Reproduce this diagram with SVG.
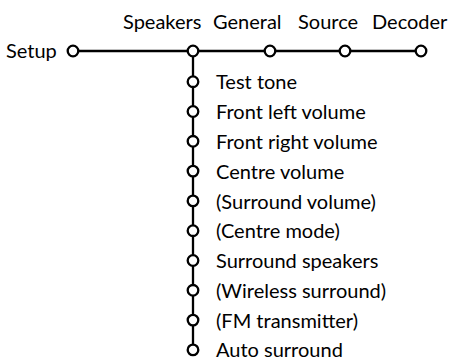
<svg xmlns="http://www.w3.org/2000/svg" width="450" height="361" viewBox="0 0 450 361">
<style>
.c{fill:#fff;stroke:#000;stroke-width:2.3}
.l{stroke:#000;stroke-width:2.3;fill:none}
text{font-family:Lato,"Open Sans","Liberation Sans",sans-serif;font-size:20px;fill:#000}
</style>
<rect width="450" height="361" fill="#fff"/>
<g id="connectors">
<line class="l" x1="73" y1="51" x2="421" y2="51"/>
<line class="l" x1="193" y1="51" x2="193" y2="350"/>
</g>
<g id="setup"><circle class="c" cx="73" cy="51" r="5.3"/><text x="6" y="57.5">Setup</text></g>
<g id="speakers"><circle class="c" cx="193" cy="51" r="5.3"/><text x="123" y="29">Speakers</text></g>
<g id="general"><circle class="c" cx="270" cy="51" r="5.3"/><text x="213" y="29">General</text></g>
<g id="source"><circle class="c" cx="345" cy="51" r="5.3"/><text x="298" y="29">Source</text></g>
<g id="decoder"><circle class="c" cx="421" cy="51" r="5.3"/><text x="372" y="29">Decoder</text></g>
<g id="test-tone"><circle class="c" cx="193" cy="81.7" r="5.3"/><text x="216" y="89.3">Test tone</text></g>
<g id="front-left"><circle class="c" cx="193" cy="111.5" r="5.3"/><text x="216" y="119.1">Front left volume</text></g>
<g id="front-right"><circle class="c" cx="193" cy="141.3" r="5.3"/><text x="216" y="148.9">Front right volume</text></g>
<g id="centre-volume"><circle class="c" cx="193" cy="171.1" r="5.3"/><text x="216" y="178.7">Centre volume</text></g>
<g id="surround-volume"><circle class="c" cx="193" cy="200.9" r="5.3"/><text x="216" y="208.5">(Surround volume)</text></g>
<g id="centre-mode"><circle class="c" cx="193" cy="230.7" r="5.3"/><text x="216" y="238.3">(Centre mode)</text></g>
<g id="surround-speakers"><circle class="c" cx="193" cy="260.5" r="5.3"/><text x="216" y="268.1">Surround speakers</text></g>
<g id="wireless"><circle class="c" cx="193" cy="290.3" r="5.3"/><text x="216" y="297.9">(Wireless surround)</text></g>
<g id="fm"><circle class="c" cx="193" cy="320.1" r="5.3"/><text x="216" y="327.7">(FM transmitter)</text></g>
<g id="auto-surround"><circle class="c" cx="193" cy="349.9" r="5.3"/><text x="216" y="357.3">Auto surround</text></g>
</svg>
